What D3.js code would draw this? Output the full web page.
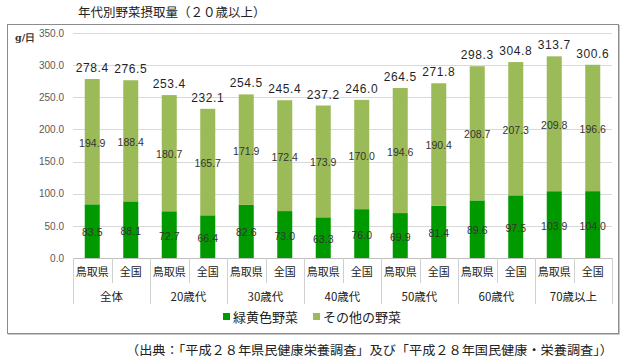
<!DOCTYPE html>
<html>
<head>
<meta charset="utf-8">
<script src="https://cdn.jsdelivr.net/npm/d3@7"></script>
<style>
  body { margin: 0; background: #fff; }
  svg { display: block; font-family: "Noto Sans CJK JP", "Noto Sans", sans-serif; }
  .tick text { fill: #595959; }
</style>
</head>
<body>
<svg id="chart" width="630" height="364"></svg>
<script>
const groups = ["全体", "20歳代", "30歳代", "40歳代", "50歳代", "60歳代", "70歳以上"];
const regions = ["鳥取県", "全国"];
const greenVeg = [83.5, 88.1, 72.7, 66.4, 82.6, 73.0, 63.3, 76.0, 69.9, 81.4, 89.6, 97.5, 103.9, 104.0];
const otherVeg = [194.9, 188.4, 180.7, 165.7, 171.9, 172.4, 173.9, 170.0, 194.6, 190.4, 208.7, 207.3, 209.8, 196.6];
const totals = [278.4, 276.5, 253.4, 232.1, 254.5, 245.4, 237.2, 246.0, 264.5, 271.8, 298.3, 304.8, 313.7, 300.6];
const yTicks = [0, 50, 100, 150, 200, 250, 300, 350];
const seriesNames = ["緑黄色野菜", "その他の野菜"];
const colors = ["#009a00", "#9bbb59"];

const plot = { left: 73, right: 612, top: 33, bottom: 258 };

const rows = [];
groups.forEach((g, gi) => regions.forEach((r, ri) => {
  const i = gi * 2 + ri;
  rows.push({ key: i, group: g, region: r, green: greenVeg[i], other: otherVeg[i], total: totals[i] });
}));

const svg = d3.select("#chart");

// frame
svg.append("rect")
  .attr("x", 7.5).attr("y", 24.5)
  .attr("width", 611).attr("height", 309)
  .attr("fill", "none").attr("stroke", "#8c8c8c").attr("stroke-width", 1);
svg.append("path")
  .attr("d", "M8,334.5H619.5V25")
  .attr("fill", "none").attr("stroke", "#c8c8c8").attr("stroke-width", 1);

svg.append("text")
  .attr("x", 78).attr("y", 17)
  .attr("font-size", 12.5).attr("fill", "#222")
  .text("年代別野菜摂取量（２０歳以上）");

const x = d3.scaleBand()
  .domain(rows.map(d => d.key))
  .range([plot.left, plot.right])
  .paddingInner(0.61).paddingOuter(0.305);

const y = d3.scaleLinear()
  .domain([0, 350])
  .range([plot.bottom, plot.top]);

// gridlines + y axis
const yAxis = d3.axisLeft(y).tickValues(yTicks).tickSize(0).tickPadding(9)
  .tickFormat(d3.format(".1f"));
const gy = svg.append("g")
  .attr("class", "y-axis")
  .attr("transform", `translate(${plot.left},0)`)
  .call(yAxis);
gy.select(".domain").remove();
gy.selectAll("text").attr("font-family", "Liberation Sans, sans-serif").attr("font-size", 10);

svg.append("g").selectAll("line")
  .data(yTicks.filter(d => d > 0))
  .join("line")
  .attr("x1", plot.left).attr("x2", plot.right)
  .attr("y1", d => Math.round(y(d)) + 0.5).attr("y2", d => Math.round(y(d)) + 0.5)
  .attr("stroke", "#d9d9d9");

// stacked bars
const stack = d3.stack().keys(["green", "other"]);
const layers = stack(rows);

const layerG = svg.append("g").selectAll("g")
  .data(layers)
  .join("g")
  .attr("fill", (d, i) => colors[i]);

layerG.selectAll("rect")
  .data(d => d)
  .join("rect")
  .attr("x", d => x(d.data.key))
  .attr("width", x.bandwidth())
  .attr("y", d => y(d[1]))
  .attr("height", d => y(d[0]) - y(d[1]));

// segment labels
layerG.selectAll("text")
  .data(d => d)
  .join("text")
  .attr("x", d => x(d.data.key) + x.bandwidth() / 2)
  .attr("y", d => (y(d[0]) + y(d[1])) / 2 + 5)
  .attr("text-anchor", "middle")
  .attr("fill", "#333")
  .attr("font-family", "Liberation Sans, sans-serif")
  .attr("font-size", 10.5)
  .text(d => (d[1] - d[0]).toFixed(1));

// total labels
svg.append("g").selectAll("text")
  .data(rows)
  .join("text")
  .attr("x", d => x(d.key) + x.bandwidth() / 2)
  .attr("y", d => y(d.total) - 7)
  .attr("text-anchor", "middle")
  .attr("fill", "#1f1f2a")
  .attr("font-family", "Liberation Sans, sans-serif")
  .attr("font-size", 12)
  .attr("letter-spacing", 0.6)
  .text(d => d.total.toFixed(1));

// x axis line
svg.append("line")
  .attr("x1", plot.left).attr("x2", plot.right)
  .attr("y1", plot.bottom + 0.5).attr("y2", plot.bottom + 0.5)
  .attr("stroke", "#bfbfbf");

// category separators
const step = x.step();
const edges = d3.range(rows.length + 1).map(i => plot.left + i * step);
svg.append("g").selectAll("line")
  .data(edges)
  .join("line")
  .attr("x1", d => Math.round(d) + 0.5).attr("x2", d => Math.round(d) + 0.5)
  .attr("y1", plot.bottom)
  .attr("y2", (d, i) => i % 2 === 0 ? 304 : 283)
  .attr("stroke", "#d0d0d0");

svg.append("g").selectAll("text")
  .data(rows)
  .join("text")
  .attr("x", d => x(d.key) + x.bandwidth() / 2)
  .attr("y", 276)
  .attr("text-anchor", "middle")
  .attr("font-size", 11).attr("fill", "#222")
  .text(d => d.region);

svg.append("g").selectAll("text")
  .data(groups)
  .join("text")
  .attr("x", (d, i) => plot.left + (i * 2 + 1) * step)
  .attr("y", 301)
  .attr("text-anchor", "middle")
  .attr("font-size", 11.5).attr("fill", "#222")
  .text(d => d);

// unit label
svg.append("text")
  .attr("x", 15).attr("y", 41)
  .attr("font-family", "DejaVu Serif, serif")
  .attr("font-weight", "bold").attr("font-size", 9.5).attr("fill", "#333")
  .text("g/日");

// legend
const legendX = [223, 313];
const lg = svg.append("g").selectAll("g")
  .data(seriesNames)
  .join("g")
  .attr("transform", (d, i) => `translate(${legendX[i]},317)`);
lg.append("rect")
  .attr("x", 0).attr("y", -4).attr("width", 7).attr("height", 7)
  .attr("fill", (d, i) => colors[i]);
lg.append("text")
  .attr("x", 10).attr("y", 4.5)
  .attr("font-size", 13).attr("fill", "#222")
  .text(d => d);

// source note
svg.append("text")
  .attr("x", 126).attr("y", 355)
  .attr("font-size", 12.5).attr("fill", "#222")
  .attr("textLength", 487).attr("lengthAdjust", "spacingAndGlyphs")
  .text("（出典：「平成２８年県民健康栄養調査」及び「平成２８年国民健康・栄養調査」）");
</script>
</body>
</html>
